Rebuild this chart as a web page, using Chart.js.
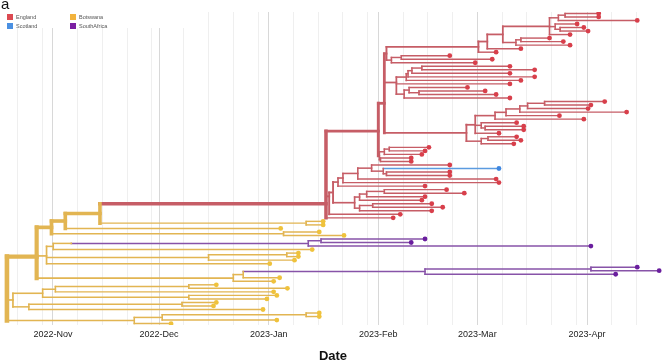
<!DOCTYPE html>
<html>
<head>
<meta charset="utf-8">
<script src="https://cdn.jsdelivr.net/npm/chart.js@4.4.0/dist/chart.umd.min.js"></script>
<style>
html, body { margin: 0; padding: 0; background: #fff; }
#wrap { position: relative; width: 666px; height: 362px; }
#tag { position: absolute; left: 1px; top: -5px; font: 15px "Liberation Sans", Arial, sans-serif; color: #111; }
#legend { position: absolute; left: 0; top: 8px; width: 205px; height: 20px; background: #fff; font: 5.5px "Liberation Sans", Arial, sans-serif; color: #555; }
.item { position: absolute; height: 7px; line-height: 7px; }
.item i { position: absolute; left: 0; top: 0; width: 6px; height: 6px; }
.item span { position: absolute; left: 9px; top: 0; white-space: nowrap; }
</style>
</head>
<body>
<div id="wrap">
  <canvas id="tree" width="666" height="362"></canvas>
  <div id="legend"></div>
  <div id="tag">a</div>
</div>
<script>
// tips from top to bottom (row = index + 1), dates in days after 2022-11-01
const tipParent = ['nb1','nb1','nb','nc','nc1','nc1','na','T4','T4','T3','T1','T','k1','k1','K',
  'm1','m1','m2','m3','m4','M','m7a','m6','m6','m7','l1','l1','l2','l3','l4','l5','l7','l6','l6','La',
  'l9','l9','Lb','sa','sa','sb','sc','sc','c1','c2','c3','c3','c4','c5','c6','c7','c7','c8','c9',
  'c10','c10','c11','LR','P0','y1','y1','y3','y5','y5','pu2','pu2','pu1','y6','y10','y10','y9','y8',
  'pu4','pu4','pu3','yB','yA','z1','z1','z2','z3','z3','w1','w1','w2','v1','v1','v2','v3'];
const tipDay = [154.3,154.3,165.2,148.2,150.1,151.3,146.2,140.4,144.3,146.2,132.3,125.3,112.2,124.2,119.4,
  129.2,136.2,129.2,136.2,132.3,129.2,117.2,122.2,125.3,129.2,156.0,152.1,151.3,162.2,143.2,150.1,131.1,
  133.1,133.1,126.1,131.1,132.3,130.3,106.3,105.2,104.3,101.3,101.3,112.2,126.1,112.2,112.2,125.3,126.1,
  105.2,111.3,116.3,105.2,104.3,107.1,110.2,107.1,98.2,96.2,76.4,76.4,64.4,75.3,82.3,105.2,101.3,152.1,
  73.3,69.4,69.4,68.3,61.3,165.2,171.4,159.1,64.1,62.4,46.2,66.3,62.4,63.3,60.5,46.2,45.4,59.4,75.3,
  75.3,63.3,33.4];
const tipCountry = [].concat(
  Array(44).fill('England'), ['Scotland'], Array(14).fill('England'),
  Array(5).fill('Botswana'), Array(3).fill('SouthAfrica'), Array(5).fill('Botswana'),
  Array(3).fill('SouthAfrica'), Array(14).fill('Botswana'));

// internal nodes
const nodeName = ['root','y2','y4','y3','yR','y1','y5','y8','y6','y7','pu1','pu2','y9','y10','yA','yB',
  'pu3','pu4','z5','z4','z2','z1','z3','w2','w1','v3','v2','v1',
  'P0','Q','Q1','X','T','T1','T2','na','nb','nb1','nc','nc1','T3','T4','K','k1','M','m4','m3','m2','m1',
  'm7','m7a','m6','L','La','l5','l4','l3','l2','l1','l7','l6','Lb','l9','sd','sb','sa','sc',
  'LR','c13','c6','c5','c4','c1','c2','c3','c12','c9','c8','c7','c11','c10'];
const nodeParent = [null,'root','y2','y4','y3','yR','y4','y2','y8','y6','y7','pu1','y8','y9','y2','yA',
  'yB','pu3','root','z5','z4','z2','z4','z5','w2','root','v3','v2',
  'yR','P0','Q','Q1','X','T','T1','T2','na','nb','na','nc','T2','T3','X','K','Q1','M','m4','m3','m2',
  'M','m7','m7a','Q1','L','La','l5','l4','l3','l2','La','l7','L','Lb','Q','sd','sb','sd',
  'P0','LR','c13','c6','c5','c4','c1','c2','c13','c12','c9','c8','c12','c11'];
const nodeDay = [-13.0,-4.6,-0.4,3.5,13.3,71.6,65.2,-1.8,0.1,5.2,72.2,75.8,44.0,66.1,51.0,53.8,
  105.2,152.1,-11.3,-2.9,0.7,38.4,38.4,-6.8,36.5,23.0,30.9,71.6,
  77.2,92.0,93.7,94.3,120.3,122.8,127.2,140.4,142.9,144.8,142.0,143.4,130.9,132.3,95.7,98.5,97.1,99.9,
  100.4,101.5,104.3,99.3,100.7,103.5,116.9,119.4,125.0,128.1,132.0,134.2,139.0,121.1,122.2,121.1,123.0,
  92.3,93.7,95.1,92.6,78.1,79.2,80.6,82.0,86.2,90.1,93.4,94.3,85.3,86.7,88.7,93.7,86.7,90.4];
const nodeRow = [80,70,61.7,59.9,57.75,60.5,63.5,69.8,67.1,66.25,66.25,65.5,70.25,69.5,76.1,75.1,
  74.25,73.5,82.3,80.4,79.25,78.5,81.5,84.25,83.5,88.1,87.25,86.5,
  55.0,34.4,26.5,12.4,10.5,8.98,6.96,4.67,2.25,1.5,4.75,5.5,9.25,8.5,14.25,13.5,20.6,19.06,18.1,17.25,
  16.5,23.9,22.75,23.5,34.9,32.6,30.0,29.06,28.1,27.25,26.5,32.75,33.5,37.25,36.5,41.4,40.25,39.5,42.5,
  52.9,51.8,48.85,47.7,46.4,44.9,45.75,46.5,54.7,53.1,52.25,51.5,56.25,55.5];
const nodeCountry = nodeName.map(function(n, i) {
  if (n.indexOf('pu') === 0) return 'SouthAfrica';
  return i < 28 ? 'Botswana' : 'England';
});

const monthLabels = ['2022-Nov','2022-Dec','2023-Jan','2023-Feb','2023-Mar','2023-Apr'];
const countryNames = ['England','Scotland','Botswana','SouthAfrica'];

const keyColors = {England:'#dc4a52', Scotland:'#4a90e2', Botswana:'#f2b33d', SouthAfrica:'#7a1fa2'};
const lineColors = {England:'#c65d66', Scotland:'#5b9be0', Botswana:'#e2b552', SouthAfrica:'#8753a8'};
const dotColors = {England:'#d83f4b', Scotland:'#3f87e0', Botswana:'#efc23c', SouthAfrica:'#6a1e9e'};

// tree bookkeeping
const idx = {};
nodeName.forEach(function(n, i) { idx[n] = i; });
const tipCount = nodeName.map(function() { return 0; });
const childRows = nodeName.map(function() { return []; });
tipParent.forEach(function(p, i) {
  childRows[idx[p]].push(i + 1);
  let q = p;
  while (q) { tipCount[idx[q]] += 1; q = nodeParent[idx[q]]; }
});
nodeParent.forEach(function(p, i) { if (p) childRows[idx[p]].push(nodeRow[i]); });

function widthFor(n) { return 1.4 + 3.2 * n / tipParent.length; }

let datasets = [];
function seg(x1, y1, x2, y2, w, c) {
  datasets.push({
    data: [{x: x1, y: y1}, {x: x2, y: y2}],
    showLine: true, borderColor: c, borderWidth: w,
    borderCapStyle: 'square', pointRadius: 0, order: 5
  });
}
// horizontal branches of internal nodes and their verticals
nodeName.forEach(function(n, i) {
  const w = widthFor(tipCount[i]);
  const c = lineColors[nodeCountry[i]];
  if (nodeParent[i]) seg(nodeDay[idx[nodeParent[i]]], nodeRow[i], nodeDay[i], nodeRow[i], w, c);
  const rows = childRows[i];
  seg(nodeDay[i], Math.min.apply(null, rows), nodeDay[i], Math.max.apply(null, rows), w, c);
});
// tip branches
tipParent.forEach(function(p, i) {
  seg(nodeDay[idx[p]], i + 1, tipDay[i], i + 1, widthFor(1), lineColors[tipCountry[i]]);
});
// tip dots
countryNames.forEach(function(cn) {
  const pts = [];
  tipDay.forEach(function(d, i) { if (tipCountry[i] === cn) pts.push({x: d, y: i + 1}); });
  datasets.push({data: pts, pointRadius: 2.4, pointBackgroundColor: dotColors[cn], pointBorderWidth: 0, order: 0});
});

// x ticks: the 1st, 8th, 15th, 22nd and 29th of each month
const day0 = Date.UTC(2022, 10, 1);
let tickValues = [];
let monthStarts = {};
for (let m = 9; m <= 15; m++) {
  [1, 8, 15, 22, 29].forEach(function(d) {
    const dt = new Date(Date.UTC(2022, m, d));
    if (dt.getUTCDate() !== d) return; // no 29th in February
    const v = (dt.getTime() - day0) / 864e5;
    if (v > -13.8 && v < 172) {
      tickValues.push(v);
      if (d === 1) monthStarts[v] = monthLabels[m - 10];
    }
  });
}

new Chart(document.getElementById('tree'), {
  type: 'scatter',
  data: {datasets: datasets},
  options: {
    responsive: false,
    animation: false,
    events: [],
    layout: {padding: {top: 12, left: 0, right: 0, bottom: 0}},
    plugins: {legend: {display: false}, tooltip: {enabled: false}},
    scales: {
      x: {
        type: 'linear', min: -13.83, max: 172.2,
        afterBuildTicks: function(scale) { scale.ticks = tickValues.map(function(v) { return {value: v}; }); },
        afterFit: function(scale) { scale.height = 37; },
        ticks: {
          autoSkip: false, maxRotation: 0, padding: 4, color: '#222',
          font: {family: '"Liberation Sans", Arial, sans-serif', size: 9},
          callback: function(v) { return monthStarts[v] || ''; }
        },
        grid: {
          drawTicks: false,
          color: function(ctx) { return ctx.tick && monthStarts[ctx.tick.value] ? '#d8d8d8' : '#efefef'; },
          lineWidth: 1
        },
        border: {display: false},
        title: {
          display: true, text: 'Date', color: '#111', padding: {top: 4, bottom: -2},
          font: {family: '"Liberation Sans", Arial, sans-serif', size: 13, weight: 'bold'}
        }
      },
      y: {type: 'linear', reverse: true, min: 0.6, max: 89.4, display: false}
    }
  }
});

// legend in two columns
const legend = document.getElementById('legend');
countryNames.forEach(function(cn, i) {
  const el = document.createElement('div');
  el.className = 'item';
  el.style.left = (i < 2 ? 7 : 70) + 'px';
  el.style.top = (i % 2 === 0 ? 6 : 15) + 'px';
  el.innerHTML = '<i style="background:' + keyColors[cn] + '"></i><span>' + cn + '</span>';
  legend.appendChild(el);
});
</script>
</body>
</html>
